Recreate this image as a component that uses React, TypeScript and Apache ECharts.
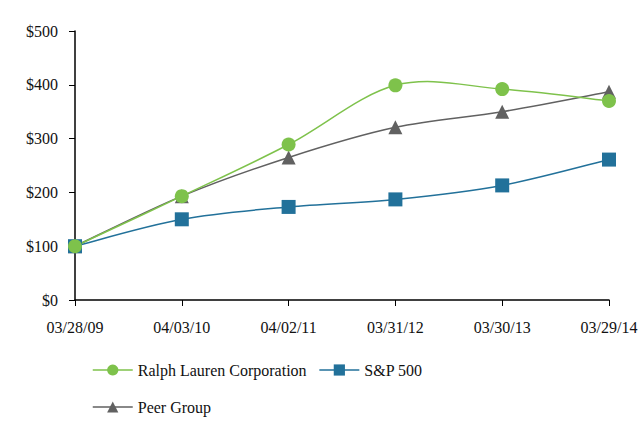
import React, { useEffect, useRef } from "react";
import * as echarts from "echarts";

const categories = ["03/28/09", "04/03/10", "04/02/11", "03/31/12", "03/30/13", "03/29/14"];
const ralphLauren = [100, 193, 289, 399, 392, 370];
const sp500 = [100, 150, 173, 187, 213, 261];
const peerGroup = [100, 193, 265, 321, 350, 387];

const GREEN = "#7ec24b";
const BLUE = "#22719a";
const GRAY = "#616161";
const FONT = "'Liberation Serif', 'Times New Roman', serif";
const TENSION = 1 / 6;

function curveSeries(values: number[], color: string, z: number) {
  return {
    type: "custom",
    name: "curve-" + color,
    data: values.map((v, i) => [i, v]),
    encode: { x: 0, y: 1 },
    z,
    silent: true,
    renderItem: (params: any, api: any) => {
      const i = params.dataIndex;
      const n = values.length;
      if (i >= n - 1) return { type: "group", children: [] };
      const pt = (k: number) => {
        const kk = Math.max(0, Math.min(n - 1, k));
        return api.coord([kk, values[kk]]);
      };
      const p0 = pt(i - 1);
      const p1 = pt(i);
      const p2 = pt(i + 1);
      const p3 = pt(i + 2);
      return {
        type: "bezierCurve",
        shape: {
          x1: p1[0],
          y1: p1[1],
          cpx1: p1[0] + (p2[0] - p0[0]) * TENSION,
          cpy1: p1[1] + (p2[1] - p0[1]) * TENSION,
          cpx2: p2[0] - (p3[0] - p1[0]) * TENSION,
          cpy2: p2[1] - (p3[1] - p1[1]) * TENSION,
          x2: p2[0],
          y2: p2[1],
        },
        style: { stroke: color, lineWidth: 1.5, fill: null },
      };
    },
  };
}

export default function App() {
  const ref = useRef<HTMLDivElement>(null);
  useEffect(() => {
    if (!ref.current) return;
    const chart = echarts.init(ref.current, undefined, { renderer: "svg" });
    const textStyle = { fontFamily: FONT, fontSize: 16, color: "#111" };
    const markerCommon = {
      type: "line",
      symbolSize: 14,
      showSymbol: true,
      lineStyle: { width: 0, opacity: 0 },
    };
    chart.setOption({
      animation: false,
      backgroundColor: "#fff",
      textStyle: { fontFamily: FONT },
      grid: { left: 75, right: 31, top: 31, bottom: 141, containLabel: false, outerBoundsMode: "none" },
      xAxis: {
        type: "category",
        data: categories,
        boundaryGap: false,
        axisLine: { lineStyle: { color: "#000", width: 1.5 } },
        axisTick: { show: true, alignWithLabel: true, length: 6, lineStyle: { color: "#000" } },
        axisLabel: { ...textStyle, margin: 19, interval: 0, hideOverlap: false },
        splitLine: { show: false },
      },
      yAxis: {
        type: "value",
        min: 0,
        max: 500,
        interval: 100,
        axisLine: { show: true, lineStyle: { color: "#000", width: 1.5 } },
        axisTick: { show: true, length: 6, lineStyle: { color: "#000" } },
        axisLabel: { ...textStyle, margin: 17, formatter: (v: number) => "$" + v },
        splitLine: { show: false },
      },
      legend: [
        {
          data: [
            { name: "Ralph Lauren Corporation", lineStyle: { color: GREEN, width: 1.5, opacity: 1 } },
            { name: "S&P 500", lineStyle: { color: BLUE, width: 1.5, opacity: 1 } },
          ],
          left: 87,
          top: 357,
          itemWidth: 40,
          itemHeight: 14,
          itemGap: 12,
          textStyle: { ...textStyle },
        },
        {
          data: [{ name: "Peer Group", lineStyle: { color: GRAY, width: 1.5, opacity: 1 } }],
          left: 87,
          top: 394,
          itemWidth: 40,
          itemHeight: 14,
          textStyle: { ...textStyle },
        },
      ],
      series: [
        curveSeries(peerGroup, GRAY, 1),
        curveSeries(sp500, BLUE, 1),
        curveSeries(ralphLauren, GREEN, 1),
        {
          ...markerCommon,
          name: "Peer Group",
          data: peerGroup,
          symbol: "triangle",
          itemStyle: { color: GRAY },
          z: 3,
        },
        {
          ...markerCommon,
          name: "S&P 500",
          data: sp500,
          symbol: "rect",
          itemStyle: { color: BLUE },
          z: 4,
        },
        {
          ...markerCommon,
          name: "Ralph Lauren Corporation",
          data: ralphLauren,
          symbol: "circle",
          itemStyle: { color: GREEN },
          z: 5,
        },
      ],
    });
    return () => chart.dispose();
  }, []);
  return (
    <div
      ref={ref}
      style={{ position: "absolute", left: 0, top: 0, width: 640, height: 441 }}
    />
  );
}
